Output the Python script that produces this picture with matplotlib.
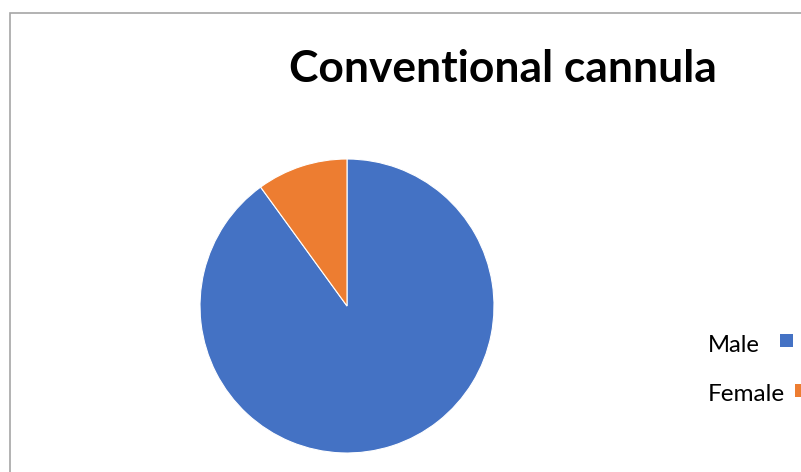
import matplotlib
matplotlib.use('Agg')
import matplotlib.pyplot as plt
from matplotlib.patches import Rectangle, Patch

labels = ['Male', 'Female']
values = [90, 10]
colors = ['#4472C4', '#ED7D31']
title = 'Conventional cannula'

W, H = 801, 472
fig = plt.figure(figsize=(W / 100, H / 100), dpi=100)
fig.patch.set_facecolor('white')

# chart area border (runs off the right and bottom edges)
fig.add_artist(Rectangle((10 / W, -0.1), 1.0, (H - 13) / H + 0.1, transform=fig.transFigure,
                         fill=False, edgecolor='#a6a6a6', linewidth=1.2))

# pie placed by pixel box
ax = fig.add_axes([200 / W, (H - 453) / H, 294 / W, 294 / H])
ax.pie(values, colors=colors, startangle=90, counterclock=False,
       wedgeprops=dict(edgecolor='white', linewidth=0.8))
ax.set_xlim(-1, 1)
ax.set_ylim(-1, 1)
ax.axis('off')

font = 'Lato'
renderer = fig.canvas.get_renderer()

def fit_text(x, y, s, width_px, weight='normal', ha='center'):
    t = fig.text(x / W, 1 - y / H, s, fontsize=20, fontweight=weight, family=font,
                 ha=ha, va='baseline')
    w = t.get_window_extent(renderer).width
    t.set_fontsize(20 * width_px / w)
    return t

fit_text(503, 82, title, 426, weight='bold')
fit_text(708, 352, labels[0], 52, ha='left')
fit_text(708, 401, labels[1], 77, ha='left')

# legend squares
fig.add_artist(Rectangle((780 / W, 1 - 347 / H), 13 / W, 13 / H, transform=fig.transFigure,
                         facecolor=colors[0], edgecolor='none'))
fig.add_artist(Rectangle((795 / W, 1 - 397 / H), 13 / W, 13 / H, transform=fig.transFigure,
                         facecolor=colors[1], edgecolor='none'))

fig.savefig('out.png', dpi=100)
